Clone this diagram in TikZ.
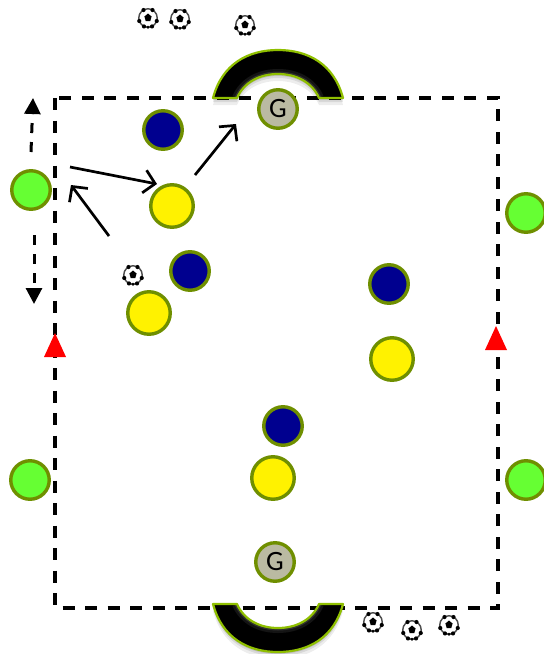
\documentclass[tikz,border=0pt]{standalone}
\usepackage{fontspec}
\setmainfont{Carlito}
\usetikzlibrary{arrows.meta}
\definecolor{myRim}{HTML}{6F8F00}
\definecolor{myGoalRim}{HTML}{8FBF00}
\definecolor{myGreen}{HTML}{66FF33}
\definecolor{myBlue}{HTML}{00008F}
\definecolor{myKeeper}{HTML}{BABAA2}
\tikzset{
	player/.style={circle, draw=myRim, line width=3.4pt, inner sep=0pt, minimum size=38.5pt},
	yellowman/.style={player, fill=yellow, minimum size=42.5pt},
	blueman/.style={player, fill=myBlue},
	greenman/.style={player, fill=myGreen},
	keeper/.style={player, fill=myKeeper, font=\fontsize{28}{28}\selectfont},
	ball/.style={circle, draw=black!70, line width=1.4pt, inner sep=0pt, minimum size=18.5pt, fill=white},
	pass/.style={line width=2.7pt, -{Straight Barb[length=11pt,width=23pt,line width=2.7pt]}},
	run/.style={line width=3pt, dash pattern=on 10pt off 9pt, -{Triangle[length=16pt,width=16pt]}},
	line/.style={line width=3.2pt, dash pattern=on 12pt off 10.5pt}
}
\newcommand{\myBall}[2]{
\node[ball] (#2) at (#1) {};
\fill[black] (#2.center) ++(0,-4.5) -- ++(3.6,3) -- ++(-1.3,4.5) -- ++(-4.6,0) -- ++(-1.3,-4.5) -- cycle;
\fill[black] (#2.north) ++(-4.5,2) circle (2.1);
\fill[black] (#2.north) ++(4.5,2) circle (2.1);
\fill[black] (#2.west) ++(1.2,3) circle (2.1);
\fill[black] (#2.east) ++(-1.2,3) circle (2.1);
\fill[black] (#2.south) ++(-4,-1.5) circle (2.1);
\fill[black] (#2.south) ++(4,-1.5) circle (2.1);
\fill[black] (#2.south) ++(0,-.8) circle (1.6);
}
\newcommand{\myGoalPath}{
(-65,0) .. controls (-56,-34) and (-30,-48) .. (0,-48) .. controls (30,-48) and (56,-34) .. (65,0)
-- (41,0) .. controls (34,-16) and (18,-24) .. (0,-24) .. controls (-18,-24) and (-34,-16) .. (-41,0) -- cycle
}
\newcommand{\myGoal}[2]{
\begin{scope}[shift={(#1)}, yscale=#2]
	% soft shadow
	\fill[black, opacity=.07, shift={(0,7*#2)}] \myGoalPath;
	\fill[black, opacity=.09, shift={(0,4*#2)}] \myGoalPath;
	\fill[black, opacity=.12, shift={(0,2*#2)}] \myGoalPath;
	\begin{scope}
		\clip \myGoalPath;
		\fill[black] (-70,2) rectangle (70,-52);
		\draw[white, opacity=.08, line width=10pt] (41,0) .. controls (34,-16) and (18,-24) .. (0,-24) .. controls (-18,-24) and (-34,-16) .. (-41,0);
		\draw[white, opacity=.12, line width=5pt] (41,0) .. controls (34,-16) and (18,-24) .. (0,-24) .. controls (-18,-24) and (-34,-16) .. (-41,0);
	\end{scope}
	\draw[myGoalRim, line width=2.2pt, line join=round] \myGoalPath;
\end{scope}
}
\newcommand{\myCone}[1]{
\fill[red] (#1) ++(0,-12) -- ++(11,24) -- ++(-22,0) -- cycle;
}

\begin{document}
\begin{tikzpicture}[x=1pt, y=-1pt]
	\useasboundingbox (0,0) rectangle (544,654);
	\clip (0,0) rectangle (544,654);

	\draw[line] (55,98) rectangle (498,608);

	\myGoal{278,98}{1}
	\myGoal{278,604}{-1}

	\myCone{55,345}
	\myCone{496,338}

	% players
	\node[blueman] (B1) at (163,130) {};
	\node[blueman] (B2) at (190,271) {};
	\node[blueman] (B3) at (389,284) {};
	\node[blueman] (B4) at (283,426) {};

	\node[yellowman] (Y1) at (172,206) {};
	\node[yellowman] (Y2) at (149,313) {};
	\node[yellowman] (Y3) at (392,359) {};
	\node[yellowman] (Y4) at (273,478) {};

	\node[greenman] (N1) at (31,190) {};
	\node[greenman] (N2) at (526,213) {};
	\node[greenman] (N3) at (30,480) {};
	\node[greenman] (N4) at (526,480) {};

	\node[keeper] (G1) at (278,109) {G};
	\node[keeper] (G2) at (275,562) {G};

	\myBall{148,18}{ball1}
	\myBall{180,19}{ball2}
	\myBall{245,25}{ball3}
	\myBall{133,275}{ball4}
	\myBall{373,622}{ball5}
	\myBall{412,630}{ball6}
	\myBall{449,625}{ball7}

	% arrows
	\coordinate (a1) at (70,167);
	\coordinate (a2) at (157,184);
	\coordinate (a3) at (109,236);
	\coordinate (a4) at (71,185);
	\coordinate (a5) at (195,175);
	\coordinate (a6) at (236,124);
	\coordinate (r1) at (31,152);
	\coordinate (r2) at (33,98);
	\coordinate (r3) at (34,235);
	\coordinate (r4) at (34,304);

	\draw[pass] (a1) -- (a2);
	\draw[pass] (a3) -- (a4);
	\draw[pass] (a5) -- (a6);
	\draw[run] (r1) -- (r2);
	\draw[run] (r3) -- (r4);
\end{tikzpicture}
\end{document}
